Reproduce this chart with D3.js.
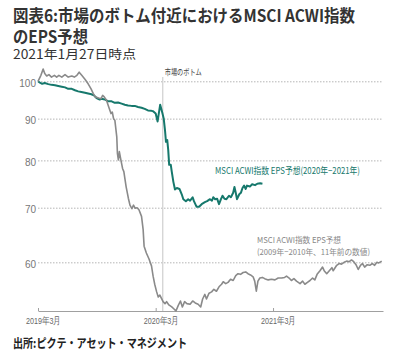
<!DOCTYPE html>
<html><head><meta charset="utf-8">
<script src="https://cdn.jsdelivr.net/npm/d3@7"></script>
<style>
html,body{margin:0;padding:0;background:#fff;}
svg{display:block;font-family:"Noto Sans CJK JP","Noto Sans",sans-serif;}
</style></head><body>
<svg id="c" width="400" height="356"></svg>
<script>
const titleLines = ["図表6:市場のボトム付近におけるMSCI ACWI指数", "のEPS予想"];
const subtitle = "2021年1月27日時点";
const source = "出所:ピクテ・アセット・マネジメント";
const bottomLabel = "市場のボトム";
const bottomDate = "2020-03-23";
const greenLabel = "MSCI ACWI指数  EPS予想(2020年−2021年)";
const grayLabel = ["MSCI ACWI指数  EPS予想", "(2009年−2010年、11年前の数値)"];
const yTicks = [60, 70, 80, 90, 100];
const xTicks = ["2019-03-01", "2020-03-01", "2021-03-01"];
const xDomain = ["2019-03-01", "2022-02-06"];
const yDomain = [52.3, 100];

const greenDates = ["2019-03-01","2019-03-07","2019-03-14","2019-03-22","2019-04-02","2019-04-12","2019-04-23","2019-05-03","2019-05-14","2019-05-24","2019-06-03","2019-06-14","2019-06-24","2019-07-04","2019-07-14","2019-07-25","2019-08-04","2019-08-14","2019-08-22","2019-08-30","2019-09-09","2019-09-14","2019-09-25","2019-10-05","2019-10-16","2019-10-26","2019-11-05","2019-11-16","2019-11-26","2019-12-06","2019-12-17","2019-12-27","2020-01-06","2020-01-17","2020-01-27","2020-02-06","2020-02-17","2020-02-22","2020-03-01","2020-03-07","2020-03-11","2020-03-15","2020-03-22","2020-03-26","2020-03-30","2020-04-02","2020-04-06","2020-04-09","2020-04-12","2020-04-17","2020-04-20","2020-04-25","2020-04-30","2020-05-06","2020-05-14","2020-05-21","2020-05-26","2020-06-03","2020-06-10","2020-06-16","2020-06-24","2020-06-28","2020-07-06","2020-07-14","2020-07-22","2020-08-01","2020-08-08","2020-08-17","2020-08-23","2020-08-27","2020-09-02","2020-09-08","2020-09-14","2020-09-20","2020-09-25","2020-10-01","2020-10-07","2020-10-15","2020-10-21","2020-10-28","2020-11-01","2020-11-05","2020-11-09","2020-11-16","2020-11-21","2020-11-26","2020-12-01","2020-12-06","2020-12-10","2020-12-19","2020-12-26","2021-01-04","2021-01-11","2021-01-20","2021-01-27"];
const greenValues = [100,99.6,99.3,99.5,99.2,99.0,98.9,98.7,98.5,98.3,97.9,97.9,97.5,97.2,97.0,96.8,96.6,96.4,96.1,95.4,95.0,95.2,95.0,94.5,94.5,94.1,94.2,93.9,93.6,93.4,93.3,93.3,93.0,92.8,92.5,92.1,92.0,91.9,91.3,89.3,91.5,93.6,91.4,90.0,87.1,84.3,84.7,82.4,79.0,79.0,77.5,75.3,73.7,74.0,73.8,72.7,71.7,71.3,71.7,71.4,72.1,71.3,70.2,70.2,70.7,71.1,71.3,71.7,71.4,72.1,71.7,71.8,70.7,71.7,72.4,71.8,71.7,72.4,72.1,73.0,74.2,73.0,71.7,72.7,73.0,74.0,74.5,73.8,74.5,74.3,74.8,74.6,74.9,75.0,74.9];

const grayDates = ["2019-03-01","2019-03-10","2019-03-17","2019-03-22","2019-03-28","2019-04-04","2019-04-12","2019-04-21","2019-04-28","2019-05-05","2019-05-14","2019-05-24","2019-06-03","2019-06-14","2019-06-22","2019-06-30","2019-07-07","2019-07-15","2019-07-25","2019-08-04","2019-08-13","2019-08-20","2019-08-26","2019-09-05","2019-09-13","2019-09-18","2019-09-23","2019-09-30","2019-10-07","2019-10-14","2019-10-18","2019-10-22","2019-10-26","2019-11-01","2019-11-03","2019-11-06","2019-11-09","2019-11-13","2019-11-19","2019-11-23","2019-11-30","2019-12-07","2019-12-12","2019-12-18","2019-12-23","2019-12-28","2020-01-03","2020-01-09","2020-01-17","2020-01-22","2020-01-25","2020-02-01","2020-02-09","2020-02-17","2020-02-22","2020-02-27","2020-03-04","2020-03-09","2020-03-14","2020-03-19","2020-03-24","2020-03-30","2020-04-04","2020-04-11","2020-04-20","2020-04-27","2020-05-03","2020-05-10","2020-05-17","2020-05-23","2020-05-30","2020-06-06","2020-06-16","2020-06-24","2020-07-02","2020-07-11","2020-07-19","2020-07-25","2020-08-01","2020-08-06","2020-08-14","2020-08-22","2020-08-29","2020-09-06","2020-09-14","2020-09-22","2020-09-27","2020-10-05","2020-10-12","2020-10-20","2020-10-28","2020-11-05","2020-11-12","2020-11-20","2020-11-28","2020-12-06","2020-12-13","2020-12-21","2020-12-29","2021-01-03","2021-01-08","2021-01-13","2021-01-19","2021-01-27","2021-02-03","2021-02-14","2021-02-24","2021-03-07","2021-03-17","2021-03-28","2021-04-06","2021-04-12","2021-04-20","2021-04-27","2021-05-05","2021-05-13","2021-05-24","2021-06-01","2021-06-08","2021-06-16","2021-06-24","2021-07-02","2021-07-09","2021-07-16","2021-07-25","2021-08-02","2021-08-07","2021-08-15","2021-08-23","2021-08-31","2021-09-04","2021-09-15","2021-09-23","2021-09-30","2021-10-08","2021-10-16","2021-10-24","2021-10-31","2021-11-07","2021-11-14","2021-11-21","2021-11-28","2021-12-04","2021-12-11","2021-12-19","2021-12-27","2022-01-04","2022-01-11","2022-01-18","2022-01-24","2022-02-02"];
const grayValues = [100.0,101.7,103.5,102.2,101.5,101.9,101.2,101.7,101.2,101.7,101.2,101.9,101.2,101.5,101.2,101.7,102.6,101.7,100.6,99.3,97.9,96.6,95.7,95.4,95.2,96.1,95.7,94.8,93.0,91.3,91.7,90.0,89.6,85.5,81.6,80.1,82.0,80.4,78.2,77.5,74.3,71.9,70.5,69.8,70.5,69.9,70.0,69.6,68.3,65.8,62.8,61.6,60.6,59.4,57.7,56.4,55.2,54.4,54.7,54.2,53.7,53.4,53.7,53.2,52.9,52.6,52.3,53.1,53.8,52.9,53.7,53.4,53.3,53.8,53.5,53.3,52.9,54.1,54.8,54.1,55.0,55.2,55.6,55.3,56.0,56.4,56.8,56.5,56.7,57.2,57.0,57.8,58.1,58.0,58.3,58.4,58.1,57.9,57.6,56.9,55.3,56.9,57.4,57.5,57.3,57.1,57.2,57.1,57.4,57.4,57.5,57.7,57.4,57.0,57.3,56.9,56.5,56.9,56.4,56.7,57.0,57.4,57.1,58.0,58.6,59.2,58.6,58.1,58.6,59.1,58.6,59.5,59.8,59.7,60.0,60.2,60.1,60.4,60.1,59.6,58.8,59.5,59.8,59.2,59.6,59.5,59.8,59.5,60.0,59.9,60.2];

const parse = d3.timeParse("%Y-%m-%d");
const svg = d3.select("#c");
const GREEN = "#16786c", GRAY = "#8a8a8a";

const x = d3.scaleTime().domain(xDomain.map(parse)).range([38, 383]);
const y = d3.scaleLog().domain(yDomain).range([311, 81.3]);

// titles
const t1 = svg.append("g").attr("fill", "#333").attr("font-weight", "bold");
t1.append("text").attr("x", 13).attr("y", 22).attr("font-size", 16.5)
  .attr("textLength", 342).attr("lengthAdjust", "spacingAndGlyphs").text(titleLines[0]);
t1.append("text").attr("x", 13).attr("y", 43).attr("font-size", 16.5)
  .attr("textLength", 75).attr("lengthAdjust", "spacingAndGlyphs").text(titleLines[1]);
svg.append("text").attr("x", 13).attr("y", 58.5).attr("font-size", 12.5).attr("fill", "#333")
  .attr("textLength", 123).attr("lengthAdjust", "spacingAndGlyphs").text(subtitle);

// grid + y labels
const yAxis = svg.append("g").attr("transform", "translate(38,0)")
  .call(d3.axisLeft(y).tickValues(yTicks).tickFormat(d3.format("d")).tickSize(-345).tickPadding(2));
yAxis.select(".domain").remove();
yAxis.selectAll(".tick line").attr("stroke", "#b5b5b5").attr("stroke-dasharray", "1.5,1.5");
yAxis.selectAll(".tick text").attr("fill", "#777").attr("font-size", 10)
  .attr("font-family", "'Liberation Sans Narrow','Liberation Sans',sans-serif").attr("dy", "0.5em");

// market bottom line
const bx = x(parse(bottomDate));
svg.append("line").attr("x1", bx).attr("x2", bx).attr("y1", 77).attr("y2", 311)
  .attr("stroke", "#cfcfcf").attr("stroke-width", 1.2);
svg.append("text").attr("x", bx + 2).attr("y", 75).attr("font-size", 8.5).attr("fill", "#444")
  .attr("textLength", 37).attr("lengthAdjust", "spacingAndGlyphs").text(bottomLabel);

// x axis
const xAxis = svg.append("g").attr("transform", "translate(0,311)")
  .call(d3.axisBottom(x).tickValues(xTicks.map(parse)).tickFormat(d3.timeFormat("%Y年%-m月"))
    .tickSize(-3).tickSizeOuter(0).tickPadding(6));
xAxis.select(".domain").attr("stroke", "#a0a0a0");
xAxis.selectAll(".tick line").attr("stroke", "#a0a0a0");
xAxis.selectAll(".tick text").attr("fill", "#666").attr("font-size", 9.5).attr("dx", 5)
  .attr("textLength", 35).attr("lengthAdjust", "spacingAndGlyphs");

// lines
const line = d3.line().x(d => x(d[0])).y(d => y(d[1]));
const greenData = greenDates.map((d, i) => [parse(d), greenValues[i]]);
const grayData = grayDates.map((d, i) => [parse(d), grayValues[i]]);
svg.append("path").datum(greenData).attr("d", line).attr("fill", "none")
  .attr("stroke", GREEN).attr("stroke-width", 2).attr("stroke-linejoin", "round");
svg.append("path").datum(grayData).attr("d", line).attr("fill", "none")
  .attr("stroke", GRAY).attr("stroke-width", 1.6).attr("stroke-linejoin", "round");

// annotations
svg.append("text").attr("x", 215).attr("y", 174).attr("font-size", 9.5).attr("fill", GREEN)
  .attr("textLength", 145).attr("lengthAdjust", "spacingAndGlyphs").text(greenLabel);
svg.append("text").attr("x", 257).attr("y", 242.5).attr("font-size", 8.2).attr("fill", "#888")
  .attr("textLength", 84).attr("lengthAdjust", "spacingAndGlyphs").text(grayLabel[0]);
svg.append("text").attr("x", 257).attr("y", 254.5).attr("font-size", 8.2).attr("fill", "#888")
  .attr("textLength", 113).attr("lengthAdjust", "spacingAndGlyphs").text(grayLabel[1]);

// source
svg.append("text").attr("x", 13).attr("y", 348).attr("font-size", 12.5).attr("font-weight", "bold")
  .attr("fill", "#222").attr("textLength", 174).attr("lengthAdjust", "spacingAndGlyphs").text(source);
</script>
</body></html>
